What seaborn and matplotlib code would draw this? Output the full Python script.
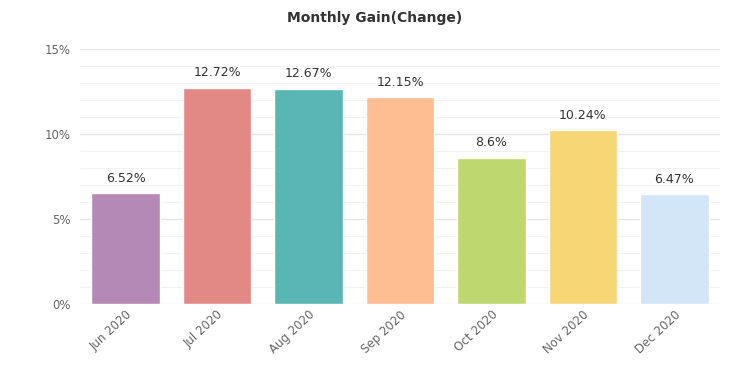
import pandas as pd
import matplotlib.pyplot as plt
import seaborn as sns

months = ["Jun 2020", "Jul 2020", "Aug 2020", "Sep 2020", "Oct 2020", "Nov 2020", "Dec 2020"]
gain = [6.52, 12.72, 12.67, 12.15, 8.6, 10.24, 6.47]
labels = ["6.52%", "12.72%", "12.67%", "12.15%", "8.6%", "10.24%", "6.47%"]
colors = ["#B589B5", "#E28986", "#5AB6B5", "#FFBD92", "#BFD76F", "#F7D675", "#D2E6F8"]

df = pd.DataFrame({"month": months, "gain": gain})

sns.set_style("white")
plt.rcParams['font.family'] = ['DejaVu Sans']

fig = plt.figure(figsize=(7.49, 3.76), dpi=100)
ax = fig.add_axes([80 / 749, 1 - 304 / 376, 640 / 749, 255 / 376])

sns.barplot(data=df, x="month", y="gain", hue="month", palette=colors,
            legend=False, width=0.75, saturation=1, ax=ax, zorder=3)

ax.set_xlim(-0.5, 6.5)
ax.set_ylim(0, 15)
ax.set_yticks([0, 5, 10, 15])
ax.set_yticklabels(["0%", "5%", "10%", "15%"])
ax.set_yticks(range(0, 16), minor=True)
ax.grid(True, axis="y", which="major", color="#e6e6e6", lw=1, zorder=0)
ax.grid(True, axis="y", which="minor", color="#f2f2f2", lw=0.8, zorder=0)
ax.tick_params(axis="y", which="both", length=0, labelsize=8.5, labelcolor="#666666", pad=7)
ax.tick_params(axis="x", length=0, labelsize=8.5, labelcolor="#666666", pad=3)
plt.setp(ax.get_xticklabels(), rotation=43, ha="right", rotation_mode="anchor")
ax.set_xlabel("")
ax.set_ylabel("")
for s in ax.spines.values():
    s.set_visible(False)

for i, (v, t) in enumerate(zip(gain, labels)):
    ax.annotate(t, (i, v), xytext=(0, 6), textcoords="offset points",
                ha="center", va="bottom", fontsize=9, color="#333333")

fig.suptitle("Monthly Gain(Change)", y=0.97, fontsize=10, fontweight="bold", color="#333333")

plt.savefig("out.png", dpi=100)
